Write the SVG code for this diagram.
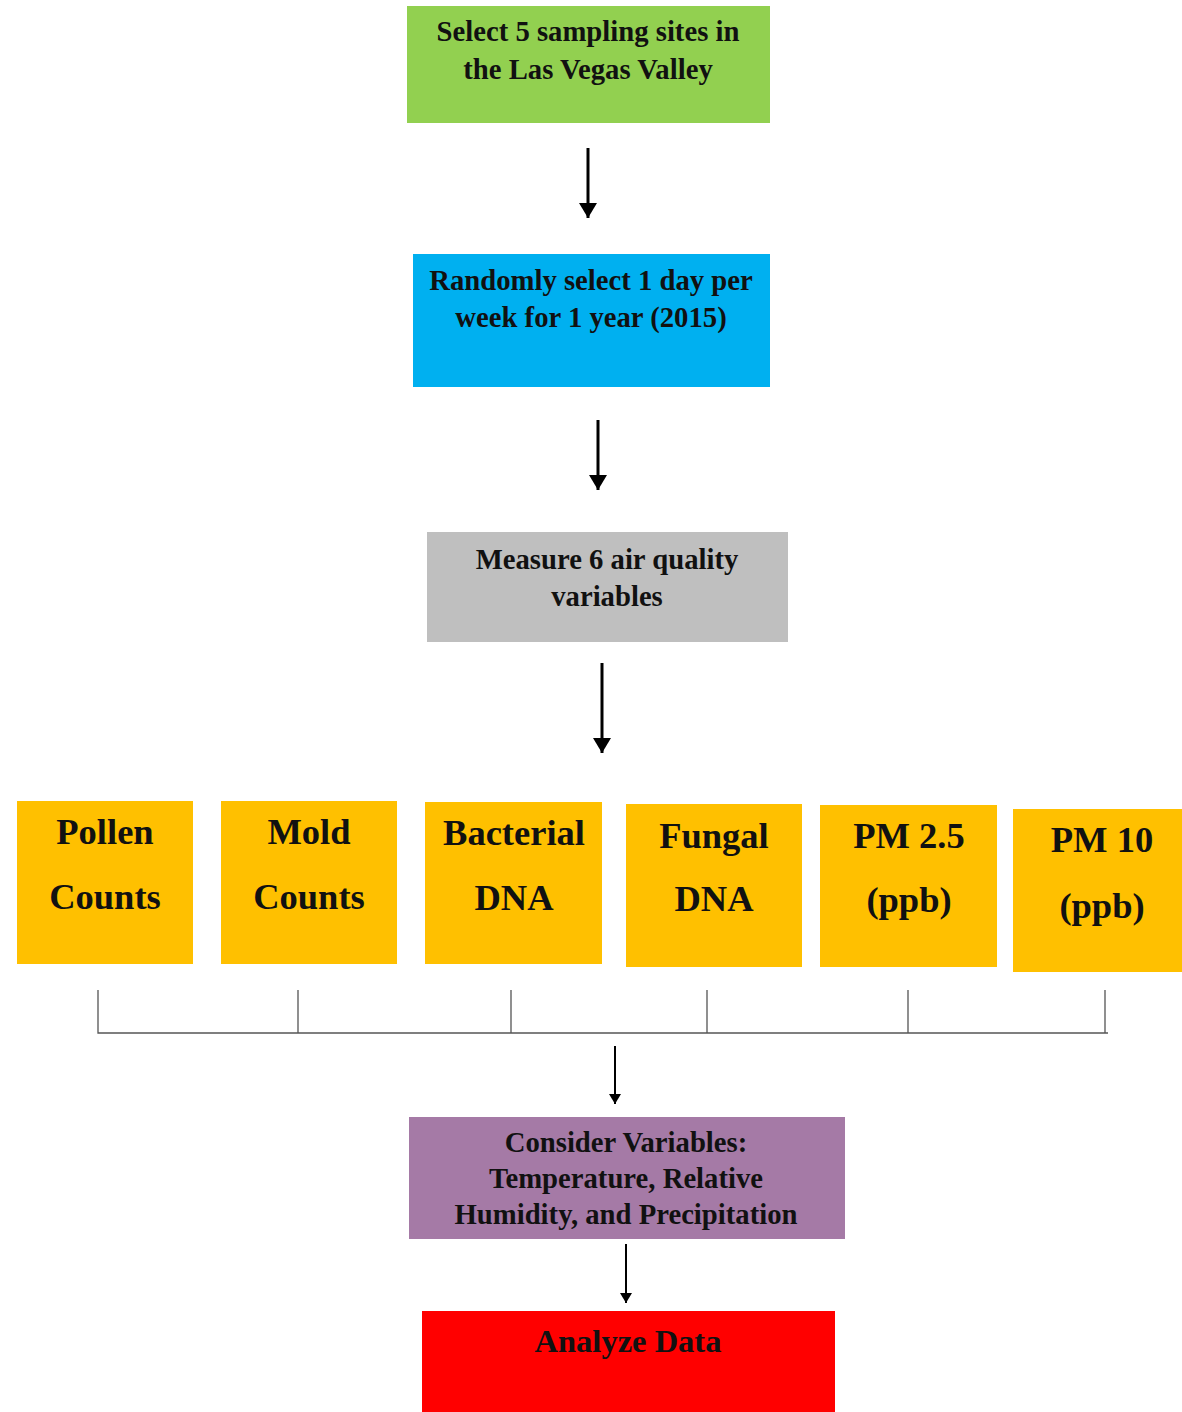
<svg xmlns="http://www.w3.org/2000/svg" width="1182" height="1412" viewBox="0 0 1182 1412">
<style>
text{font-family:"Liberation Serif","Times New Roman",serif;font-weight:bold;fill:#111;text-anchor:middle}
.t{font-size:28.7px}
.b{font-size:36.5px}
.a{font-size:32.5px}
.arr{stroke:#000;stroke-width:3;fill:none}
.arr2{stroke:#000;stroke-width:2;fill:none}
.br{stroke:#555;stroke-width:1.3;fill:none}
</style>
<defs>
<marker id="ah" markerWidth="6" markerHeight="6" refX="5" refY="3" orient="auto" markerUnits="strokeWidth"><path d="M0,0 L5,3 L0,6 Z" fill="#000"/></marker>
</defs>
<rect width="1182" height="1412" fill="#fff"/>
<g id="n1"><rect x="407" y="6" width="363" height="117" fill="#92d050"/><text class="t" x="588" y="41">Select 5 sampling sites in</text><text class="t" x="588" y="79">the Las Vegas Valley</text></g>
<g id="n2"><rect x="413" y="254" width="357" height="133" fill="#00b0f0"/><text class="t" x="591" y="290">Randomly select 1 day per</text><text class="t" x="591" y="327">week for 1 year (2015)</text></g>
<g id="n3"><rect x="427" y="532" width="361" height="110" fill="#bfbfbf"/><text class="t" x="607" y="569">Measure 6 air quality</text><text class="t" x="607" y="606">variables</text></g>
<g id="n4"><rect x="17" y="801" width="176" height="163" fill="#ffc000"/><text class="b" x="105" y="844">Pollen</text><text class="b" x="105" y="909">Counts</text></g>
<g id="n5"><rect x="221" y="801" width="176" height="163" fill="#ffc000"/><text class="b" x="309" y="844">Mold</text><text class="b" x="309" y="909">Counts</text></g>
<g id="n6"><rect x="425" y="802" width="177" height="162" fill="#ffc000"/><text class="b" x="514" y="845">Bacterial</text><text class="b" x="514" y="910">DNA</text></g>
<g id="n7"><rect x="626" y="804" width="176" height="163" fill="#ffc000"/><text class="b" x="714" y="848">Fungal</text><text class="b" x="714" y="911">DNA</text></g>
<g id="n8"><rect x="820" y="805" width="177" height="162" fill="#ffc000"/><text class="b" x="909" y="848">PM 2.5</text><text class="b" x="909" y="912">(ppb)</text></g>
<g id="n9"><rect x="1013" y="809" width="169" height="163" fill="#ffc000"/><text class="b" x="1102" y="852">PM 10</text><text class="b" x="1102" y="918">(ppb)</text></g>
<g id="n10"><rect x="409" y="1117" width="436" height="122" fill="#a57aa6"/><text class="t" x="626" y="1152">Consider Variables:</text><text class="t" x="626" y="1188">Temperature, Relative</text><text class="t" x="626" y="1224">Humidity, and Precipitation</text></g>
<g id="n11"><rect x="422" y="1311" width="413" height="101" fill="#ff0000"/><text class="a" x="628" y="1352">Analyze Data</text></g>
<g id="connectors">
<line class="arr" x1="588" y1="148" x2="588" y2="218" marker-end="url(#ah)"/>
<line class="arr" x1="598" y1="420" x2="598" y2="490" marker-end="url(#ah)"/>
<line class="arr" x1="602" y1="663" x2="602" y2="753" marker-end="url(#ah)"/>
<path class="br" d="M98,990 V1033 H1108 M298,990 V1033 M511,990 V1033 M707,990 V1033 M908,990 V1033 M1105,990 V1033"/>
<line class="arr2" x1="615" y1="1046" x2="615" y2="1104" marker-end="url(#ah)"/>
<line class="arr2" x1="626" y1="1244" x2="626" y2="1303" marker-end="url(#ah)"/>
</g>
</svg>
